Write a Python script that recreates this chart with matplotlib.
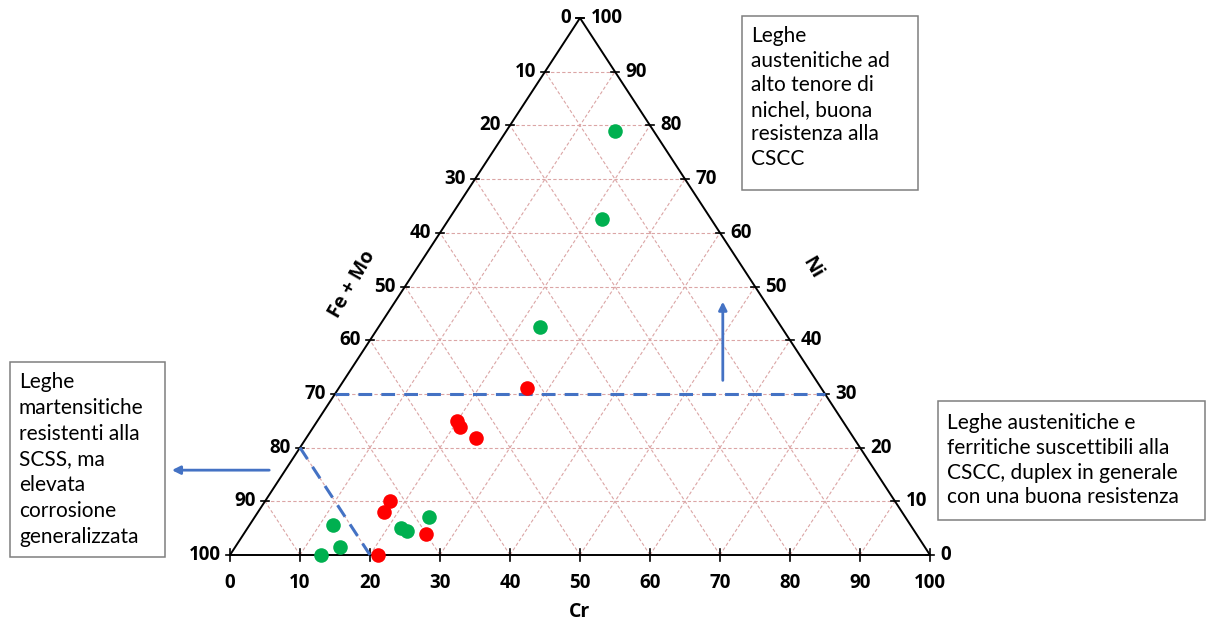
import numpy as np
import matplotlib.pyplot as plt
from matplotlib.patches import FancyArrowPatch, Rectangle

plt.rcParams['font.family'] = ['Lato', 'DejaVu Sans']

# data (Cr %, Ni %); Fe + Mo = 100 - Cr - Ni
green_cr = [15.5, 21.8, 23.0, 11.9, 15.0, 13.0, 21.9, 23.0, 24.9]
green_ni = [79.0, 62.6, 42.5, 5.6, 1.5, 0.0, 5.1, 4.5, 7.1]
red_cr = [26.9, 19.9, 20.9, 24.3, 17.8, 17.9, 26.0, 21.2]
red_ni = [31.1, 25.0, 23.8, 21.8, 10.1, 8.1, 4.0, 0.0]

ticks = list(range(0, 101, 10))
ni_limit = 30
femo_limit = 80

box_top = ["Leghe", "austenitiche ad", "alto tenore di", "nichel, buona",
           "resistenza alla", "CSCC"]
box_left = ["Leghe", "martensitiche", "resistenti alla", "SCSS, ma", "elevata",
            "corrosione", "generalizzata"]
box_right = ["Leghe austenitiche e", "ferritiche suscettibili alla",
             "CSCC, duplex in generale", "con una buona resistenza"]


def xy(cr, ni):
    cr = np.asarray(cr, dtype=float)
    ni = np.asarray(ni, dtype=float)
    return cr + ni / 2.0, ni


W, H = 1217, 626
fig = plt.figure(figsize=(W / 100, H / 100), dpi=100)
ax = fig.add_axes([230 / W, (H - 555) / H, 700 / W, 537 / H])
ax.set_xlim(0, 100)
ax.set_ylim(0, 100)
ax.axis('off')

grid_kw = dict(color='#dba5a5', lw=0.8, ls=(0, (3, 2)), zorder=1)
for t in ticks[1:-1]:
    # constant Ni
    x0, y0 = xy(0, t)
    x1, y1 = xy(100 - t, t)
    ax.plot([x0, x1], [y0, y1], **grid_kw)
    # constant Cr
    x0, y0 = xy(t, 0)
    x1, y1 = xy(t, 100 - t)
    ax.plot([x0, x1], [y0, y1], **grid_kw)
    # constant Fe+Mo
    x0, y0 = xy(t, 0)
    x1, y1 = xy(0, t)
    ax.plot([x0, x1], [y0, y1], **grid_kw)

# triangle
ax.plot([0, 100, 50, 0], [0, 0, 100, 0], color='black', lw=1.4, zorder=3, clip_on=False)

bold = ['Open Sans', 'DejaVu Sans']
lab_kw = dict(fontsize=13.5, fontweight='bold', color='black', family=bold)
for t in ticks:
    # bottom: Cr
    ax.plot([t, t], [-1.2, 1.2], color='black', lw=1.2, clip_on=False, zorder=3)
    ax.text(t, -5.3, str(t), ha='center', va='center', **lab_kw)
    # left: Fe+Mo
    lx, ly = xy(0, 100 - t)
    ax.plot([lx - 0.6, lx + 0.6], [ly, ly], color='black', lw=1.2, clip_on=False, zorder=3)
    ax.text(lx - 1.3, ly, str(t), ha='right', va='center', **lab_kw)
    # right: Ni
    rx, ry = xy(100 - t, t)
    ax.plot([rx - 0.6, rx + 0.6], [ry, ry], color='black', lw=1.2, clip_on=False, zorder=3)
    ax.text(rx + 1.5, ry, str(t), ha='left', va='center', **lab_kw)

title_kw = dict(ha='center', va='center', fontsize=14, fontweight='bold', family=bold)
ax.text(50, -10.6, 'Cr', **title_kw)
ax.text(17.4, 50.5, 'Fe + Mo', rotation=60, **title_kw)
ax.text(83.1, 53.5, 'Ni', rotation=-60, **title_kw)

# limit lines
blue = '#4472c4'
dash_kw = dict(color=blue, lw=2.2, ls=(0, (4.5, 3)), zorder=4, clip_on=False)
x0, y0 = xy(0, ni_limit)
x1, y1 = xy(100 - ni_limit, ni_limit)
ax.plot([x0, x1], [y0, y1], **dash_kw)
s = 100 - femo_limit
x0, y0 = xy(0, s)
x1, y1 = xy(s, 0)
ax.plot([x0, x1], [y0, y1], **dash_kw)

# arrows
ax.add_patch(FancyArrowPatch((70.4, 32.0), (70.4, 47.7), arrowstyle='-|>', mutation_scale=12,
                             color=blue, lw=2, clip_on=False))
ax.add_patch(FancyArrowPatch((6.0, 15.8), (-8.7, 15.8), arrowstyle='-|>', mutation_scale=12,
                             color=blue, lw=2, clip_on=False))

# points
gx, gy = xy(green_cr, green_ni)
rx, ry = xy(red_cr, red_ni)
ax.scatter(gx, gy, s=110, color='#00b050', zorder=5, clip_on=False, linewidths=0)
ax.scatter(rx, ry, s=110, color='#ff0000', zorder=5, clip_on=False, linewidths=0)


# annotation boxes (pixel geometry)
def text_box(lines, left, top, right, bottom, first, step):
    fig.patches.append(Rectangle((left / W, 1 - bottom / H), (right - left) / W,
                                 (bottom - top) / H, transform=fig.transFigure,
                                 fc='white', ec='#7f7f7f', lw=1.1, zorder=6))
    for i, line in enumerate(lines):
        fig.text((left + 9) / W, 1 - (first + i * step) / H, line, fontsize=15,
                 ha='left', va='center', zorder=7)


text_box(box_top, 742, 16, 918, 190, 36, 24.6)
text_box(box_left, 10, 362, 165, 557, 382, 25.8)
text_box(box_right, 938, 401, 1205, 520, 423, 24.8)

fig.savefig('out.png', dpi=100)
